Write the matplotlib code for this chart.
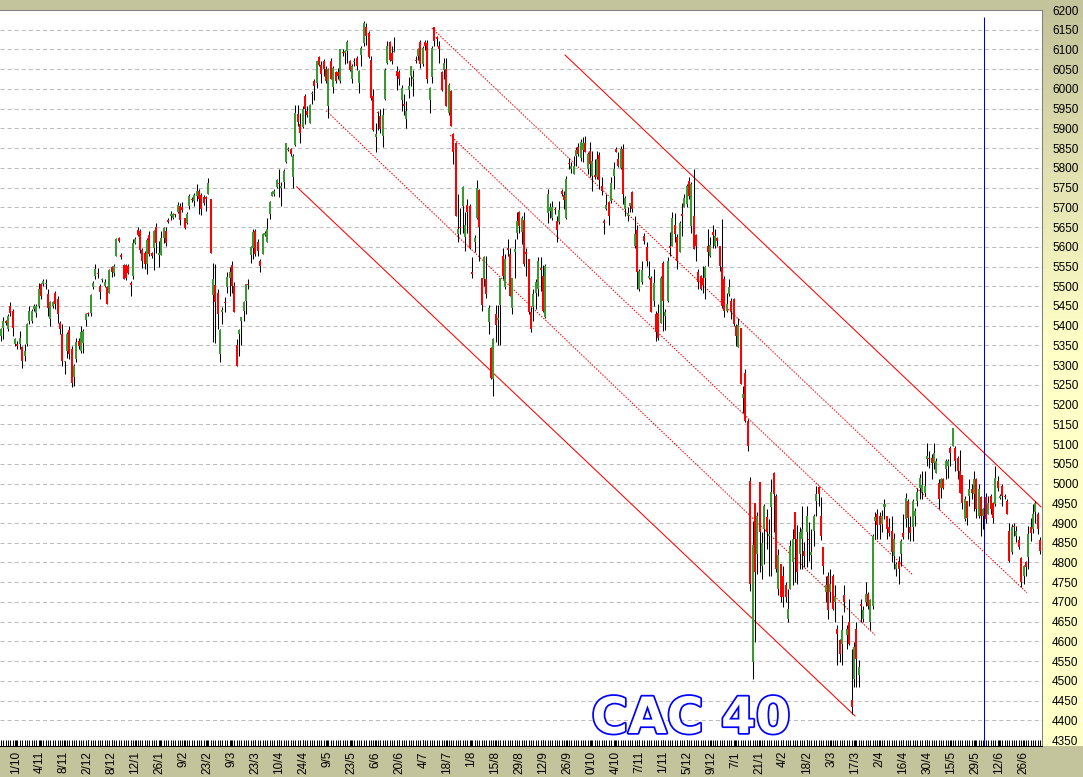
import matplotlib
matplotlib.use("Agg")
import matplotlib.pyplot as plt
import matplotlib.patheffects as pe
import numpy as np

# CAC 40, bougies journalieres (ouverture, haut, bas, cloture)
opens = [
    5374, 5395, 5411, 5391, 5450, 5438, 5353, 5353, 5353, 5345,
    5324, 5353, 5412, 5412, 5442, 5433, 5450, 5505, 5505, 5505,
    5480, 5416, 5450, 5484, 5467, 5408, 5378, 5307, 5336, 5389,
    5342, 5271, 5315, 5362, 5336, 5357, 5415, 5433, 5431, 5497,
    5526, 5534, 5501, 5515, 5501, 5498, 5484, 5549, 5534, 5577,
    5621, 5580, 5553, 5553, 5551, 5509, 5526, 5610, 5642, 5640,
    5593, 5585, 5556, 5631, 5583, 5596, 5651, 5580, 5579, 5623,
    5640, 5667, 5678, 5674, 5682, 5688, 5703, 5701, 5672, 5661,
    5703, 5722, 5716, 5729, 5741, 5730, 5727, 5727, 5733, 5720,
    5479, 5503, 5483, 5329, 5434, 5460, 5497, 5520, 5554, 5500,
    5350, 5379, 5413, 5438, 5463, 5506, 5579, 5598, 5640, 5611,
    5564, 5581, 5630, 5611, 5682, 5729, 5733, 5752, 5762, 5750,
    5764, 5816, 5846, 5848, 5777, 5858, 5937, 5912, 5904, 5981,
    5944, 5914, 5986, 6019, 6015, 6081, 6060, 6072, 6051, 5958,
    6072, 6005, 6042, 6042, 6019, 6093, 6091, 6095, 6070, 6024,
    6067, 6078, 6015, 6087, 6116, 6158, 6142, 6074, 5983, 5879,
    5941, 5931, 5880, 5975, 6066, 6118, 6091, 6094, 6045, 6042,
    5973, 5963, 5924, 5998, 6034, 6024, 6074, 6083, 6118, 6062,
    6118, 6116, 5971, 6030, 6157, 6131, 6108, 6042, 6049, 6051,
    5939, 5994, 5887, 5864, 5632, 5650, 5703, 5625, 5705, 5703,
    5537, 5613, 5674, 5744, 5520, 5518, 5518, 5410, 5343, 5265,
    5430, 5415, 5452, 5577, 5497, 5598, 5581, 5444, 5587, 5636,
    5687, 5638, 5668, 5586, 5569, 5434, 5447, 5484, 5493, 5545,
    5525, 5421, 5685, 5691, 5672, 5696, 5666, 5662, 5742, 5731,
    5672, 5812, 5797, 5784, 5831, 5854, 5824, 5846, 5862, 5797,
    5843, 5780, 5782, 5778, 5832, 5755, 5666, 5696, 5714, 5717,
    5780, 5848, 5822, 5799, 5849, 5696, 5677, 5704, 5738, 5603,
    5643, 5493, 5510, 5628, 5600, 5522, 5522, 5463, 5429, 5431,
    5408, 5559, 5425, 5463, 5603, 5603, 5655, 5624, 5587, 5683,
    5702, 5708, 5767, 5653, 5679, 5630, 5535, 5527, 5520, 5520,
    5603, 5577, 5638, 5601, 5621, 5601, 5548, 5518, 5438, 5480,
    5463, 5468, 5399, 5345, 5395, 5218, 5281, 5159, 5007, 4548,
    4951, 4822, 5003, 4792, 4885, 4915, 4868, 4940, 5028, 4969,
    4733, 4797, 4767, 4742, 4658, 4733, 4801, 4927, 4860, 4822,
    4860, 4830, 4877, 4860, 4819, 4881, 4957, 4991, 4919, 4839,
    4725, 4767, 4725, 4767, 4700, 4632, 4603, 4594, 4717, 4616,
    4649, 4451, 4506, 4632, 4514, 4696, 4657, 4700, 4721, 4649,
    4691, 4906, 4923, 4919, 4898, 4940, 4917, 4891, 4880, 4817,
    4784, 4800, 4822, 4876, 4910, 4956, 4889, 4889, 4918, 4956,
    4990, 4979, 4977, 5061, 5064, 5065, 5053, 5028, 5002, 4990,
    5011, 5036, 5044, 5091, 5095, 5091, 5065, 5032, 5021, 4910,
    4956, 4969, 4987, 4973, 5011, 4918, 4967, 4917, 4967, 4924,
    4969, 4950, 4948, 5007, 4964, 4994, 4969, 4956, 4880, 4826,
    4893, 4868, 4858, 4811, 4767, 4800, 4813, 4889, 4885, 4927,
    4922, 4858,
]
highs = [
    5395, 5421, 5415, 5429, 5459, 5442, 5370, 5362, 5387, 5349,
    5353, 5408, 5450, 5442, 5454, 5454, 5509, 5509, 5518, 5519,
    5492, 5463, 5463, 5488, 5475, 5412, 5404, 5311, 5383, 5400,
    5349, 5303, 5370, 5370, 5400, 5391, 5433, 5436, 5481, 5513,
    5556, 5547, 5505, 5522, 5518, 5501, 5543, 5551, 5556, 5623,
    5625, 5585, 5556, 5556, 5556, 5513, 5619, 5625, 5651, 5644,
    5598, 5589, 5623, 5640, 5587, 5642, 5659, 5615, 5640, 5651,
    5651, 5674, 5690, 5686, 5684, 5713, 5711, 5713, 5674, 5688,
    5733, 5726, 5737, 5758, 5746, 5737, 5730, 5729, 5775, 5720,
    5559, 5556, 5493, 5392, 5447, 5472, 5535, 5548, 5564, 5510,
    5366, 5392, 5421, 5463, 5506, 5518, 5602, 5645, 5645, 5619,
    5569, 5636, 5640, 5674, 5716, 5741, 5746, 5771, 5796, 5764,
    5796, 5864, 5852, 5851, 5834, 5960, 5960, 5939, 5958, 5986,
    5958, 5963, 5994, 6024, 6072, 6083, 6072, 6076, 6057, 6053,
    6078, 6057, 6045, 6053, 6101, 6101, 6099, 6123, 6074, 6062,
    6078, 6083, 6049, 6108, 6171, 6167, 6146, 6083, 6000, 5914,
    5944, 5948, 5952, 6053, 6121, 6121, 6108, 6131, 6057, 6049,
    6011, 5986, 5969, 6030, 6057, 6049, 6083, 6104, 6125, 6108,
    6125, 6123, 6005, 6108, 6158, 6135, 6121, 6045, 6078, 6078,
    6015, 5998, 5889, 5865, 5733, 5699, 5754, 5687, 5720, 5708,
    5573, 5629, 5769, 5746, 5520, 5577, 5577, 5452, 5345, 5368,
    5452, 5452, 5522, 5598, 5581, 5619, 5598, 5522, 5619, 5687,
    5691, 5678, 5687, 5598, 5570, 5447, 5493, 5518, 5573, 5573,
    5554, 5556, 5746, 5712, 5717, 5700, 5679, 5717, 5746, 5742,
    5780, 5824, 5814, 5831, 5852, 5863, 5873, 5877, 5881, 5839,
    5866, 5843, 5822, 5843, 5839, 5776, 5670, 5734, 5717, 5776,
    5814, 5854, 5839, 5856, 5860, 5728, 5700, 5712, 5742, 5679,
    5655, 5543, 5565, 5636, 5611, 5565, 5526, 5543, 5438, 5455,
    5527, 5565, 5442, 5573, 5638, 5687, 5685, 5632, 5666, 5712,
    5734, 5759, 5776, 5763, 5797, 5632, 5543, 5528, 5552, 5552,
    5645, 5624, 5655, 5645, 5624, 5603, 5670, 5527, 5484, 5518,
    5471, 5471, 5404, 5420, 5395, 5248, 5290, 5163, 5016, 4906,
    4951, 4927, 5005, 4877, 4948, 4936, 4910, 5012, 5030, 4974,
    4835, 4797, 4792, 4750, 4733, 4856, 4885, 4927, 4894, 4889,
    4944, 4851, 4944, 4902, 4885, 4923, 4995, 4995, 4965, 4839,
    4767, 4776, 4784, 4771, 4742, 4641, 4607, 4666, 4742, 4641,
    4708, 4580, 4599, 4649, 4552, 4708, 4691, 4750, 4725, 4708,
    4872, 4927, 4936, 4927, 4932, 4961, 4918, 4914, 4918, 4876,
    4800, 4817, 4859, 4922, 4977, 4960, 4918, 4960, 4939, 4990,
    5023, 5032, 5032, 5103, 5082, 5074, 5103, 5065, 5011, 5015,
    5015, 5061, 5061, 5095, 5141, 5095, 5070, 5086, 5021, 4969,
    4956, 5011, 4998, 5032, 5015, 4998, 4969, 4939, 4977, 4969,
    4973, 4954, 5044, 5019, 4973, 4998, 4973, 4960, 4901, 4897,
    4901, 4893, 4868, 4813, 4794, 4805, 4893, 4914, 4948, 4956,
    4927, 4864,
]
lows = [
    5362, 5366, 5401, 5387, 5425, 5374, 5349, 5341, 5341, 5294,
    5311, 5349, 5404, 5408, 5437, 5421, 5446, 5467, 5501, 5492,
    5425, 5400, 5446, 5442, 5408, 5379, 5298, 5277, 5319, 5315,
    5244, 5248, 5307, 5341, 5332, 5332, 5400, 5425, 5425, 5492,
    5518, 5522, 5467, 5511, 5499, 5454, 5484, 5524, 5526, 5577,
    5612, 5568, 5518, 5516, 5532, 5475, 5518, 5606, 5627, 5585,
    5547, 5543, 5530, 5577, 5572, 5541, 5585, 5549, 5578, 5609,
    5601, 5661, 5669, 5671, 5675, 5686, 5654, 5688, 5644, 5657,
    5695, 5714, 5703, 5716, 5682, 5680, 5705, 5691, 5733, 5583,
    5358, 5356, 5392, 5308, 5404, 5434, 5484, 5476, 5484, 5434,
    5297, 5324, 5350, 5413, 5430, 5493, 5560, 5569, 5577, 5577,
    5537, 5581, 5627, 5611, 5670, 5729, 5729, 5750, 5725, 5703,
    5750, 5813, 5843, 5830, 5750, 5855, 5907, 5862, 5901, 5912,
    5929, 5914, 5963, 5973, 6003, 6057, 6015, 6034, 6015, 5927,
    6024, 5990, 6015, 6024, 6015, 6083, 6062, 6066, 6045, 6015,
    6057, 6049, 5990, 6057, 6108, 6112, 6078, 5973, 5893, 5840,
    5897, 5889, 5853, 5973, 6062, 6070, 6062, 6093, 5998, 6011,
    5944, 5935, 5901, 5977, 6008, 5981, 6066, 6074, 6053, 6057,
    6099, 6015, 5939, 6015, 6108, 6108, 6066, 5994, 6024, 5956,
    5935, 5906, 5809, 5678, 5611, 5632, 5636, 5590, 5636, 5594,
    5520, 5586, 5670, 5565, 5438, 5501, 5469, 5379, 5265, 5222,
    5358, 5350, 5350, 5518, 5493, 5577, 5476, 5430, 5522, 5619,
    5636, 5607, 5552, 5527, 5430, 5383, 5413, 5442, 5476, 5489,
    5434, 5419, 5660, 5674, 5668, 5683, 5611, 5658, 5729, 5697,
    5670, 5797, 5788, 5784, 5805, 5831, 5818, 5814, 5839, 5784,
    5776, 5742, 5772, 5772, 5746, 5731, 5632, 5694, 5655, 5712,
    5746, 5839, 5801, 5797, 5708, 5679, 5666, 5687, 5687, 5598,
    5493, 5488, 5505, 5607, 5552, 5518, 5434, 5450, 5362, 5364,
    5407, 5387, 5390, 5459, 5577, 5603, 5611, 5543, 5586, 5628,
    5700, 5700, 5721, 5636, 5594, 5565, 5493, 5491, 5484, 5467,
    5552, 5573, 5598, 5598, 5603, 5539, 5446, 5421, 5434, 5476,
    5416, 5399, 5349, 5345, 5252, 5180, 5155, 5083, 4729, 4506,
    4598, 4771, 4776, 4759, 4797, 4835, 4767, 4767, 4877, 4776,
    4717, 4700, 4687, 4700, 4649, 4733, 4742, 4750, 4746, 4784,
    4784, 4788, 4788, 4805, 4784, 4843, 4919, 4944, 4856, 4771,
    4700, 4657, 4700, 4679, 4649, 4540, 4548, 4540, 4674, 4582,
    4590, 4417, 4485, 4485, 4485, 4649, 4649, 4691, 4683, 4628,
    4683, 4860, 4860, 4860, 4877, 4910, 4859, 4868, 4801, 4784,
    4767, 4746, 4792, 4859, 4889, 4859, 4855, 4855, 4893, 4943,
    4960, 4962, 4969, 5044, 5040, 5011, 5036, 5028, 4935, 4964,
    4986, 5011, 5015, 5044, 5095, 5032, 5011, 4977, 4935, 4906,
    4895, 4943, 4960, 4931, 4914, 4914, 4868, 4885, 4901, 4922,
    4922, 4901, 4943, 4981, 4960, 4943, 4960, 4922, 4801, 4822,
    4868, 4851, 4834, 4737, 4746, 4767, 4784, 4855, 4876, 4901,
    4872, 4822,
]
closes = [
    5391, 5412, 5408, 5425, 5433, 5395, 5366, 5349, 5370, 5311,
    5336, 5404, 5437, 5437, 5450, 5450, 5492, 5475, 5513, 5509,
    5446, 5459, 5459, 5454, 5429, 5391, 5311, 5309, 5380, 5328,
    5256, 5298, 5359, 5349, 5383, 5387, 5429, 5429, 5478, 5509,
    5543, 5532, 5486, 5518, 5511, 5456, 5540, 5536, 5551, 5619,
    5615, 5575, 5519, 5521, 5534, 5504, 5610, 5620, 5631, 5593,
    5564, 5556, 5617, 5581, 5577, 5640, 5610, 5583, 5623, 5647,
    5609, 5663, 5682, 5684, 5680, 5706, 5668, 5693, 5647, 5684,
    5729, 5719, 5730, 5741, 5720, 5697, 5710, 5720, 5762, 5585,
    5518, 5461, 5430, 5388, 5441, 5458, 5524, 5537, 5500, 5436,
    5299, 5390, 5421, 5459, 5506, 5502, 5600, 5638, 5581, 5590,
    5552, 5632, 5634, 5646, 5714, 5739, 5741, 5768, 5758, 5754,
    5792, 5862, 5848, 5836, 5830, 5940, 5917, 5889, 5948, 5948,
    5935, 5960, 5990, 6007, 6070, 6060, 6039, 6051, 6019, 6051,
    6025, 6053, 6019, 6032, 6101, 6091, 6095, 6120, 6049, 6057,
    6072, 6057, 6045, 6104, 6167, 6133, 6081, 5977, 5895, 5885,
    5938, 5899, 5935, 6049, 6108, 6074, 6072, 6095, 6032, 6025,
    6003, 5956, 5944, 6007, 6057, 6030, 6072, 6101, 6062, 6104,
    6108, 6024, 6003, 6104, 6121, 6127, 6101, 5997, 6066, 5958,
    6011, 5907, 5840, 5678, 5645, 5648, 5752, 5654, 5687, 5598,
    5531, 5621, 5750, 5651, 5452, 5573, 5480, 5444, 5267, 5366,
    5402, 5419, 5520, 5527, 5569, 5592, 5476, 5520, 5594, 5665,
    5653, 5674, 5556, 5581, 5434, 5392, 5480, 5510, 5564, 5541,
    5438, 5552, 5734, 5700, 5702, 5692, 5643, 5694, 5734, 5719,
    5773, 5810, 5805, 5805, 5846, 5835, 5865, 5863, 5839, 5835,
    5810, 5818, 5776, 5822, 5770, 5742, 5660, 5706, 5677, 5761,
    5797, 5839, 5805, 5849, 5734, 5723, 5685, 5711, 5696, 5632,
    5535, 5539, 5542, 5615, 5565, 5526, 5435, 5508, 5385, 5370,
    5522, 5463, 5435, 5565, 5598, 5672, 5632, 5565, 5660, 5677,
    5723, 5755, 5728, 5759, 5594, 5603, 5510, 5493, 5503, 5550,
    5586, 5604, 5630, 5628, 5615, 5552, 5450, 5438, 5455, 5497,
    5437, 5404, 5374, 5401, 5252, 5226, 5159, 5096, 4746, 4845,
    4776, 4919, 4877, 4850, 4944, 4877, 4872, 4978, 4974, 4784,
    4818, 4712, 4712, 4712, 4683, 4843, 4860, 4860, 4776, 4877,
    4885, 4816, 4919, 4856, 4826, 4919, 4974, 4974, 4868, 4792,
    4742, 4679, 4746, 4683, 4712, 4620, 4569, 4628, 4700, 4632,
    4594, 4434, 4586, 4556, 4535, 4691, 4679, 4721, 4691, 4704,
    4868, 4915, 4894, 4894, 4919, 4948, 4885, 4876, 4826, 4859,
    4796, 4784, 4855, 4864, 4964, 4912, 4876, 4956, 4931, 4979,
    5015, 4996, 4994, 5070, 5063, 5053, 5078, 5057, 4960, 5011,
    4990, 5057, 5057, 5078, 5141, 5057, 5032, 4977, 4952, 4960,
    4914, 4987, 4977, 5011, 4935, 4987, 4918, 4935, 4910, 4950,
    4935, 4914, 5015, 4990, 4969, 4969, 4967, 4922, 4805, 4889,
    4889, 4880, 4838, 4750, 4792, 4788, 4872, 4876, 4922, 4950,
    4885, 4830,
]

date_labels = ["1/10", "4/11", "8/11", "2/12", "8/12", "12/1", "26/1", "9/2", "23/2",
               "9/3", "23/3", "10/4", "24/4", "9/5", "23/5", "6/6", "20/6", "4/7",
               "18/7", "1/8", "15/8", "29/8", "12/9", "26/9", "0/10", "4/10", "7/11",
               "1/11", "5/12", "9/12", "7/1", "21/1", "4/2", "18/2", "3/3", "17/3",
               "2/4", "16/4", "30/4", "15/5", "29/5", "12/6", "26/6"]

# canaux baissiers : (barre, niveau) de debut et de fin, style
channels = [
    ((125.5, 5752), (362.5, 4411), "solid"),
    ((138.0, 5945), (371.0, 4616), "dot"),
    ((190.6, 5883), (387.1, 4768), "dot"),
    ((182.9, 6154), (435.5, 4723), "dot"),
    ((239.4, 6086), (441.4, 4941), "solid"),
]
marker_bar = 417.2

W, H = 1083, 777
khaki = "#c4c49c"
fig = plt.figure(figsize=(W / 100, H / 100), dpi=100)
fig.patch.set_facecolor(khaki)

# panneau de droite en degrade
gax = fig.add_axes([1042 / W, 31 / H, 41 / W, 736 / H])
t = np.linspace(0, 1, 256)
c_top = np.array([196, 196, 156]) / 255
c_mid = np.array([255, 255, 200]) / 255
w = np.clip(t / 0.45, 0, 1)[:, None]
grad = c_top * (1 - w) + c_mid * w
gax.imshow(grad[:, None, :], aspect="auto", extent=(0, 1, 0, 1))
gax.axis("off")

ax = fig.add_axes([0, 31 / H, 1042 / W, 736 / H])
ax.set_facecolor("white")

o = np.array(opens, float)
h = np.array(highs, float)
l = np.array(lows, float)
c = np.array(closes, float)
idx = np.arange(len(o))
up = c >= o

# quadrillage
for lev in range(4400, 6151, 50):
    ax.axhline(lev, color="#bdbdbd", lw=0.75, dashes=(3.9, 2.9), zorder=1)

# canaux
for (x0, y0), (x1, y1), st in channels:
    if st == "solid":
        ax.plot([x0, x1], [y0, y1], color="#ff0000", lw=0.75, zorder=2)
    else:
        ax.plot([x0, x1], [y0, y1], color="#ff0000", lw=0.75, dashes=(1.4, 1.4), zorder=2)

# bougies
ax.vlines(idx, l, h, color="black", lw=0.75, zorder=3)
bot = np.minimum(o, c)
hgt = np.maximum(np.abs(c - o), 2.5)
ax.bar(idx[up], hgt[up], bottom=bot[up], width=0.85, color="#3a9a32",
       linewidth=0, zorder=4)
ax.bar(idx[~up], hgt[~up], bottom=bot[~up], width=0.85, color="#ff0000",
       linewidth=0, zorder=4)

ax.vlines(marker_bar, 4335, 6182, color="#0000c8", lw=0.75, zorder=5)

ax.set_xlim(-0.42, 441.85)
ax.set_ylim(4335, 6200)

tick_pos = np.linspace(6.2, 433.8, len(date_labels))
ax.set_xticks(tick_pos)
ax.set_xticklabels(date_labels, rotation=90, fontfamily="Liberation Sans")
ax.set_xticks(idx, minor=True)
ax.tick_params(axis="x", which="both", direction="in", length=4.3, width=0.75,
               color="black", pad=3.6, labelsize=8.5)

ax.yaxis.tick_right()
ax.set_yticks(np.arange(4350, 6201, 50))
ax.tick_params(axis="y", length=0, pad=7.2, labelsize=8.5)
for lab in ax.get_yticklabels():
    lab.set_fontfamily("Liberation Sans")

for s in ("top", "right"):
    ax.spines[s].set_color("#808080")
    ax.spines[s].set_linewidth(0.75)
ax.spines["left"].set_visible(False)
ax.spines["bottom"].set_color("black")
ax.spines["bottom"].set_linewidth(0.75)

fig.text(691 / W, 1 - 719 / H, "CAC 40", ha="center", va="center", color="white",
         fontsize=36, fontweight="bold", fontfamily="DejaVu Sans",
         path_effects=[pe.withStroke(linewidth=2.5, foreground="#0000ff")])

fig.savefig("out.png", dpi=100, facecolor=fig.get_facecolor())
